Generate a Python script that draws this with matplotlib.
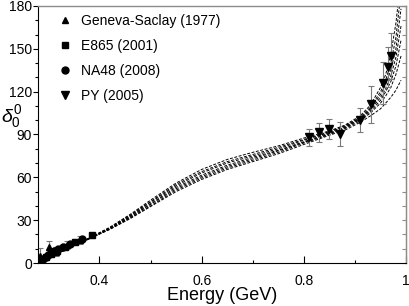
import matplotlib
matplotlib.use("Agg")
import matplotlib.pyplot as plt
from matplotlib.ticker import MultipleLocator, FixedLocator, FormatStrFormatter

plt.rcParams['font.family'] = ['Liberation Sans', 'DejaVu Sans']
plt.rcParams['mathtext.fontset'] = 'custom'
plt.rcParams['mathtext.rm'] = 'Liberation Sans'
plt.rcParams['mathtext.it'] = 'Liberation Sans:italic'

#region data
energy = [0.28, 0.30, 0.34, 0.38, 0.42, 0.46, 0.50, 0.55, 0.60, 0.65, 0.70,
          0.75, 0.80, 0.85, 0.88, 0.91, 0.93, 0.95, 0.96, 0.97, 0.98, 0.99]

band = [
    [0, 3.5, 10.5, 17.0, 23.5, 31.0, 39.5, 50.0, 58.5, 65.5, 71.0, 76.5, 83.0, 89.5, 93.0, 98.5, 103.0, 108.0, 112.0, 116.0, 121.0, 128.0],
    [0, 3.5, 10.5, 17.0, 23.5, 31.5, 40.0, 51.0, 59.5, 66.5, 72.0, 77.5, 84.0, 90.0, 94.0, 99.5, 105.0, 112.0, 117.0, 123.0, 132.0, 145.0],
    [0, 3.5, 10.5, 17.0, 24.0, 32.0, 41.0, 52.0, 60.5, 67.5, 73.0, 78.5, 84.5, 90.5, 94.5, 100.5, 106.0, 114.0, 120.0, 127.0, 138.0, 156.0],
    [0, 3.5, 10.5, 17.0, 24.0, 32.5, 41.5, 53.0, 61.5, 68.5, 74.0, 79.0, 85.0, 91.0, 95.0, 101.0, 107.0, 116.0, 122.0, 131.0, 144.0, 166.0],
    [0, 3.5, 10.5, 17.0, 24.5, 33.0, 42.5, 54.0, 63.0, 70.0, 75.0, 80.0, 86.0, 91.5, 95.5, 101.5, 108.0, 118.0, 125.0, 135.0, 150.0, 178.0],
    [0, 3.5, 10.5, 17.5, 24.5, 33.5, 43.0, 55.0, 64.0, 71.0, 76.0, 81.0, 86.5, 92.0, 96.0, 102.0, 109.0, 120.0, 128.0, 140.0, 158.0, 190.0],
    [0, 3.5, 10.5, 17.5, 25.0, 34.0, 44.0, 56.0, 65.5, 72.5, 77.5, 82.0, 87.5, 92.5, 96.5, 103.0, 110.5, 123.0, 132.0, 146.0, 168.0, 200.0],
]

genevaE = [0.284, 0.301, 0.316, 0.337, 0.362]
genevaD = [5.0, 11.0, 8.0, 12.5, 16.0]
genevaErr = [5.5, 4.5, 3.0, 3.0, 3.0]

e865E = [0.295, 0.305, 0.318, 0.333, 0.352, 0.385]
e865D = [4.0, 6.5, 8.7, 11.5, 15.0, 19.5]
e865Err = [1.5, 1.3, 1.2, 1.3, 1.5, 1.8]

na48E = [0.286, 0.290, 0.295, 0.300, 0.306, 0.312, 0.319, 0.328, 0.342, 0.366]
na48D = [2.0, 3.0, 4.3, 5.5, 7.0, 8.3, 9.7, 11.5, 13.5, 16.6]
na48Err = [0.6, 0.6, 0.6, 0.6, 0.7, 0.7, 0.8, 0.8, 0.9, 1.2]

pyE = [0.810, 0.830, 0.850, 0.870, 0.910, 0.932, 0.954, 0.964, 0.970]
pyD = [88.0, 91.5, 94.0, 90.5, 100.0, 111.0, 126.0, 137.0, 145.0]
pyErr = [6.0, 6.5, 7.0, 8.5, 8.5, 13.0, 15.0, 14.0, 16.0]
#endregion

fig = plt.figure(figsize=(4.09, 3.06), dpi=100)
ax = fig.add_axes([0.093, 0.1405, 0.900, 0.840])

for curve in band:
    ax.plot(energy, curve, '--', color='black', lw=0.7, dashes=(3, 1.6))

errStyle = dict(fmt='none', ecolor='#7a7a7a', elinewidth=0.8, capsize=2.5, capthick=0.8)
for xs, ys, errs in [(genevaE, genevaD, genevaErr), (e865E, e865D, e865Err),
                     (na48E, na48D, na48Err), (pyE, pyD, pyErr)]:
    ax.errorbar(xs, ys, yerr=errs, **errStyle)

ax.plot(genevaE, genevaD, '^', color='black', ms=5, ls='none', label="Geneva-Saclay (1977)")
ax.plot(e865E, e865D, 's', color='black', ms=4.5, ls='none', label="E865 (2001)")
ax.plot(na48E, na48D, 'o', color='black', ms=5, ls='none', label="NA48 (2008)")
ax.plot(pyE, pyD, 'v', color='black', ms=6, ls='none', label="PY (2005)")

ax.set_xlim(0.28, 1.0)
ax.set_ylim(0, 180)

ax.xaxis.set_major_locator(FixedLocator([0.4, 0.6, 0.8, 1.0]))
ax.xaxis.set_minor_locator(FixedLocator([0.5, 0.7, 0.9]))
ax.xaxis.set_major_formatter(FormatStrFormatter('%g'))
ax.yaxis.set_major_locator(MultipleLocator(30))
ax.yaxis.set_minor_locator(MultipleLocator(10))

ax.tick_params(axis='x', which='both', direction='in', top=False, labelsize=10, pad=8)
ax.tick_params(axis='x', which='major', length=5, width=0.8)
ax.tick_params(axis='x', which='minor', length=2.5, width=0.8)
ax.tick_params(axis='y', which='both', direction='out', right=False, labelsize=10, pad=1)
ax.tick_params(axis='y', which='major', length=3.5, width=0.8)
ax.tick_params(axis='y', which='minor', length=2, width=0.8)

for side in ['top', 'right']:
    ax.spines[side].set_color('#8c8c8c')
    ax.spines[side].set_linewidth(1.0)

right = ax.secondary_yaxis('right')
right.yaxis.set_major_locator(MultipleLocator(10))
right.tick_params(axis='y', direction='in', length=3, color='#8c8c8c', labelright=False)
right.spines['right'].set_color('#8c8c8c')

ax.set_xlabel("Energy (GeV)", fontsize=13, labelpad=-1)
ax.set_ylabel(r'$\delta_0^0$', fontsize=14, rotation=0, ha='center', va='center')
ax.yaxis.set_label_coords(-0.072, 0.57)

ax.legend(loc='upper left', bbox_to_anchor=(0.025, 1.0), frameon=False, fontsize=10,
          handletextpad=0.5, labelspacing=0.8, borderaxespad=0.15, handlelength=1.4)

fig.savefig("out.png", dpi=100)
